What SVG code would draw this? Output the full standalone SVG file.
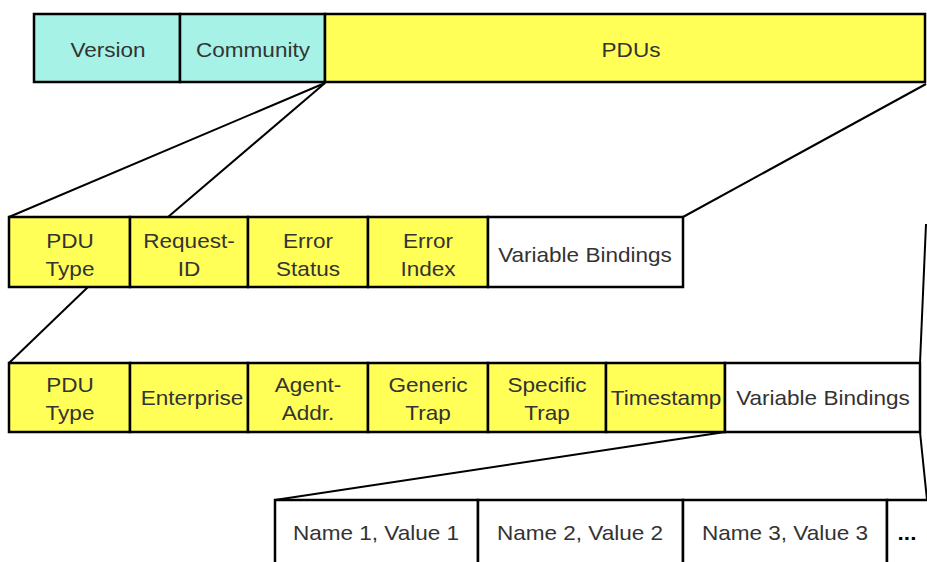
<svg xmlns="http://www.w3.org/2000/svg" width="927" height="562" viewBox="0 0 927 562">
  <style>
    .cyan { fill: #a6f2e6; stroke: #000; stroke-width: 2.5; }
    .yel { fill: #ffff57; stroke: #000; stroke-width: 2.5; }
    .wht { fill: #ffffff; stroke: #000; stroke-width: 2.5; }
    .lbl { font-family: "Liberation Sans", Arial, sans-serif; font-size: 20.5px; fill: #333; text-anchor: middle; }
    .conn { stroke: #000; stroke-width: 2; fill: none; }
  </style>
  <rect width="927" height="562" fill="#fff"/>

  <!-- message header row -->
  <g id="version">
    <rect class="cyan" x="34" y="14" width="146" height="68"/>
    <text class="lbl" transform="translate(108,57) scale(1.1,1)">Version</text>
  </g>
  <g id="community">
    <rect class="cyan" x="180" y="14" width="145" height="68"/>
    <text class="lbl" transform="translate(253,57) scale(1.1,1)">Community</text>
  </g>
  <g id="pdus">
    <rect class="yel" x="325" y="14" width="600" height="68"/>
    <text class="lbl" transform="translate(631,57) scale(1.1,1)">PDUs</text>
  </g>

  <!-- generic PDU row -->
  <g id="pdu-type-1">
    <rect class="yel" x="9" y="217" width="121" height="70"/>
    <text class="lbl" transform="translate(70,248) scale(1.1,1)">PDU</text>
    <text class="lbl" transform="translate(70,276) scale(1.1,1)">Type</text>
  </g>
  <g id="request-id">
    <rect class="yel" x="130" y="217" width="118" height="70"/>
    <text class="lbl" transform="translate(189,248) scale(1.1,1)">Request-</text>
    <text class="lbl" transform="translate(189,276) scale(1.1,1)">ID</text>
  </g>
  <g id="error-status">
    <rect class="yel" x="248" y="217" width="120" height="70"/>
    <text class="lbl" transform="translate(308,248) scale(1.1,1)">Error</text>
    <text class="lbl" transform="translate(308,276) scale(1.1,1)">Status</text>
  </g>
  <g id="error-index">
    <rect class="yel" x="368" y="217" width="120" height="70"/>
    <text class="lbl" transform="translate(428,248) scale(1.1,1)">Error</text>
    <text class="lbl" transform="translate(428,276) scale(1.1,1)">Index</text>
  </g>
  <g id="var-bindings-1">
    <rect class="wht" x="488" y="217" width="195" height="70"/>
    <text class="lbl" transform="translate(585,262) scale(1.1,1)">Variable Bindings</text>
  </g>

  <!-- trap PDU row -->
  <g id="pdu-type-2">
    <rect class="yel" x="9" y="363" width="121" height="69"/>
    <text class="lbl" transform="translate(70,392) scale(1.1,1)">PDU</text>
    <text class="lbl" transform="translate(70,420) scale(1.1,1)">Type</text>
  </g>
  <g id="enterprise">
    <rect class="yel" x="130" y="363" width="118" height="69"/>
    <text class="lbl" transform="translate(192,405) scale(1.1,1)">Enterprise</text>
  </g>
  <g id="agent-addr">
    <rect class="yel" x="248" y="363" width="120" height="69"/>
    <text class="lbl" transform="translate(308,392) scale(1.1,1)">Agent-</text>
    <text class="lbl" transform="translate(308,420) scale(1.1,1)">Addr.</text>
  </g>
  <g id="generic-trap">
    <rect class="yel" x="368" y="363" width="120" height="69"/>
    <text class="lbl" transform="translate(428,392) scale(1.1,1)">Generic</text>
    <text class="lbl" transform="translate(428,420) scale(1.1,1)">Trap</text>
  </g>
  <g id="specific-trap">
    <rect class="yel" x="488" y="363" width="118" height="69"/>
    <text class="lbl" transform="translate(547,392) scale(1.1,1)">Specific</text>
    <text class="lbl" transform="translate(547,420) scale(1.1,1)">Trap</text>
  </g>
  <g id="timestamp">
    <rect class="yel" x="606" y="363" width="119" height="69"/>
    <text class="lbl" transform="translate(666,405) scale(1.1,1)">Timestamp</text>
  </g>
  <g id="var-bindings-2">
    <rect class="wht" x="725" y="363" width="195" height="69"/>
    <text class="lbl" transform="translate(823,405) scale(1.1,1)">Variable Bindings</text>
  </g>

  <!-- variable binding list -->
  <g id="binding-1">
    <rect class="wht" x="275" y="500" width="203" height="70"/>
    <text class="lbl" transform="translate(376,540) scale(1.1,1)">Name 1, Value 1</text>
  </g>
  <g id="binding-2">
    <rect class="wht" x="478" y="500" width="205" height="70"/>
    <text class="lbl" transform="translate(580,540) scale(1.1,1)">Name 2, Value 2</text>
  </g>
  <g id="binding-3">
    <rect class="wht" x="683" y="500" width="204" height="70"/>
    <text class="lbl" transform="translate(785,540) scale(1.1,1)">Name 3, Value 3</text>
  </g>
  <g id="binding-more">
    <rect class="wht" x="887" y="500" width="50" height="70"/>
    <text class="lbl" style="fill:#000;font-weight:bold" transform="translate(907,540) scale(1.1,1)">...</text>
  </g>

  <!-- expansion lines between rows -->
  <g id="connectors">
    <line class="conn" x1="325" y1="83" x2="9" y2="217"/>
    <line class="conn" x1="325" y1="83" x2="168" y2="217"/>
    <line class="conn" x1="926" y1="84" x2="683" y2="217"/>
    <line class="conn" x1="88" y1="287" x2="9" y2="363"/>
    <line class="conn" x1="926" y1="224" x2="920" y2="363"/>
    <line class="conn" x1="725" y1="432" x2="275" y2="500"/>
    <line class="conn" x1="920" y1="432" x2="927" y2="500"/>
  </g>
</svg>
